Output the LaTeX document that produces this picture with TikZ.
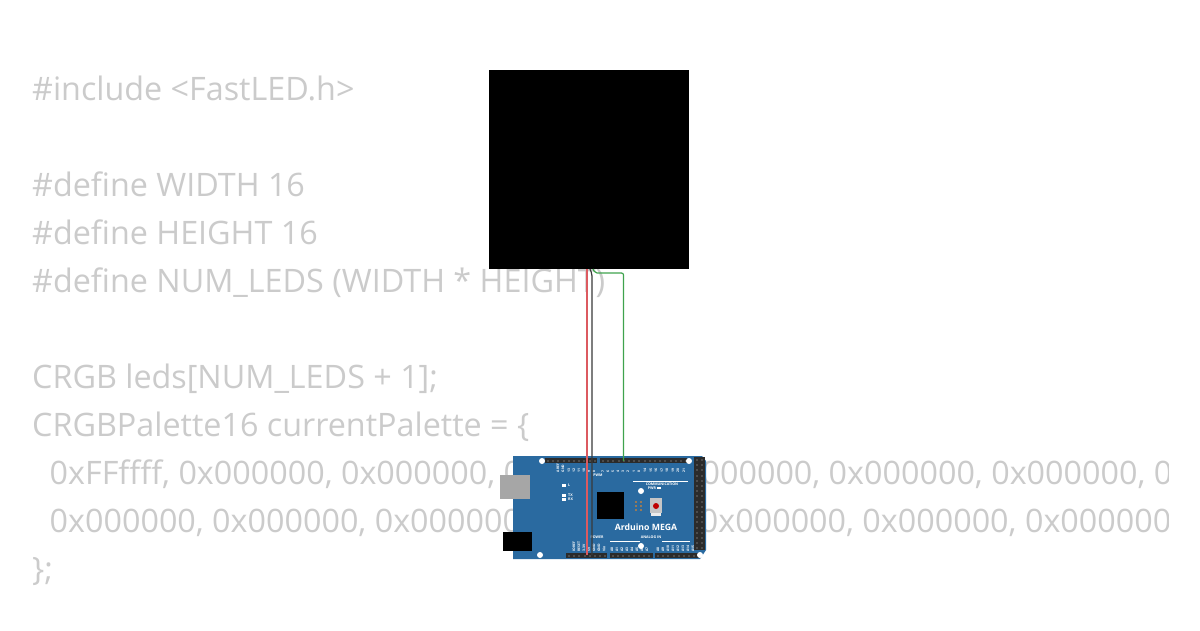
\documentclass[tikz,border=0pt]{standalone}
\usepackage{fontspec}
\setmainfont{Open Sans}
\definecolor{codegray}{HTML}{CBCBCB}
\definecolor{boardblue}{HTML}{2A6AA0}
\definecolor{headerdark}{HTML}{2B2B2B}
\definecolor{wirered}{HTML}{DC5A60}
\definecolor{wireblack}{HTML}{3A3A3A}
\definecolor{wiregreen}{HTML}{3FA34D}
\tikzset{
  codeline/.style={anchor=base west, inner sep=0pt, text=codegray, font=\fontsize{32.3}{36}\selectfont},
  silk/.style={inner sep=0pt, text=white, font=\fontsize{3.6}{4}\selectfont\bfseries},
  pinlabel/.style={inner sep=0pt, text=white, rotate=90, anchor=west, font=\fontsize{3.4}{3.4}\selectfont\bfseries},
  header/.style={fill=headerdark},
  hole/.style={fill=white, draw=none},
  wire/.style={line width=1.2pt, rounded corners=2pt}
}
\begin{document}
\begin{tikzpicture}[x=1pt,y=-1pt]
  \useasboundingbox[fill=white] (0,0) rectangle (1200,630);

  % sketch source behind the parts
  \begin{scope}
    \clip (0,0) rectangle (1168,630);
    \node[codeline] (line1) at (32,100) {\#include <FastLED.h>};
    \node[codeline] (line2) at (32,196) {\#define WIDTH 16};
    \node[codeline] (line3) at (32,244) {\#define HEIGHT 16};
    \node[codeline] (line4) at (32,292) {\#define NUM\_LEDS (WIDTH * HEIGHT)};
    \node[codeline] (line5) at (32,388) {CRGB leds[NUM\_LEDS + 1];};
    \node[codeline] (line6) at (32,436) {CRGBPalette16 currentPalette = \{};
    \node[codeline] (line7) at (49.5,484) {0xFFffff, 0x000000, 0x000000, 0x000000, 0x000000, 0x000000, 0x000000, 0x000000,};
    \node[codeline] (line8) at (49.5,532) {0x000000, 0x000000, 0x000000, 0x000000, 0x000000, 0x000000, 0x000000, 0x000000,};
    \node[codeline] (line9) at (32,580) {\};};
  \end{scope}

  % led matrix
  \node[fill=black, minimum width=200pt, minimum height=199pt, inner sep=0pt] (matrix) at (589,169.5) {};

  % board
  \fill[boardblue] (513,456) -- (702,456) -- (706,461) -- (706,550) -- (700,559) -- (513,559) -- cycle;

  % usb and power jack
  \node[fill=gray!70, minimum width=30pt, minimum height=24pt, inner sep=0pt] (usb) at (515,487) {};
  \node[fill=black, minimum width=29pt, minimum height=19pt, inner sep=0pt] (jack) at (517.5,541.5) {};

  % pin headers
  \fill[header] (545,458) rectangle (597,463);
  \fill[header] (600,458) rectangle (687,463);
  \fill[header] (566,553) rectangle (607,558);
  \fill[header] (610,553) rectangle (653,558);
  \fill[header] (655,553) rectangle (699,558);
  \fill[header] (694,457) rectangle (705,550);
  \foreach \px in {547,552.2,...,596} \fill[gray!60!black] (\px,459.5) rectangle +(2,2);
  \foreach \px in {602,607.2,...,686} \fill[gray!60!black] (\px,459.5) rectangle +(2,2);
  \foreach \px in {568,573.2,...,606} \fill[gray!60!black] (\px,554.5) rectangle +(2,2);
  \foreach \px in {612,617.2,...,652} \fill[gray!60!black] (\px,554.5) rectangle +(2,2);
  \foreach \px in {657,662.2,...,698} \fill[gray!60!black] (\px,554.5) rectangle +(2,2);
  \foreach \py in {459,464.2,...,549} {
    \fill[gray!60!black] (696,\py) rectangle +(2,2);
    \fill[gray!60!black] (701,\py) rectangle +(2,2);
  }

  % mounting holes
  \foreach \hx/\hy in {542/461, 689/461, 540/555, 700/555, 641/491, 641/546}
    \fill[hole] (\hx,\hy) circle (3pt);

  % chip, button, icsp
  \node[fill=black, minimum size=27pt, inner sep=0pt] (chip) at (610.5,505.5) {};
  \fill[white!55!gray] (650,498) rectangle (662,513);
  \fill[white!85!gray] (651,513) rectangle (661,516);
  \fill[red!75!black] (656,506) circle (3pt);
  \foreach \ix in {636,641} \foreach \iy in {502,506,510}
    \fill[orange!50!gray] (\ix,\iy) circle (1.2pt);

  % leds and silk
  \foreach \ly/\ltext in {485/L, 495/TX, 499/RX} {
    \fill[white] (562,\ly-1.5) rectangle (566,\ly+1.5);
    \node[silk, anchor=west] (led\ltext) at (568,\ly) {\ltext};
  }
  \fill[white] (657,487) rectangle (661,489);
  \node[silk] (pwr) at (652,488) {PWR};
  \node[silk] (pwm) at (598,475.5) {PWM};
  \node[silk] (comm) at (662,483.8) {COMMUNICATION};
  \node[silk] (power) at (597,537) {POWER};
  \node[silk] (analog) at (651,537.5) {ANALOG IN};
  \draw[white, line width=0.3pt] (633,481) -- (688,481);
  \draw[white, line width=0.3pt] (610,541) -- (640,541) (662,541) -- (690,541);
  \node[text=white, inner sep=0pt, font=\fontsize{8.7}{10}\selectfont\bfseries] (mega) at (646,527) {Arduino MEGA};

  % pin labels
  \foreach \tx/\ttext in {558/AREF, 563/GND, 569/13, 574/12, 579/11, 584/10, 589/9, 594/8,
      603/7, 608/6, 613/5, 618/4, 623/3, 628/2, 634/1, 639/0,
      645/14, 651/15, 656/16, 662/17, 667/18, 673/19, 678/20, 684/21}
    \node[pinlabel] (top\ttext) at (\tx,472.5) {\ttext};
  \foreach \tx/\ttext in {574/IOREF, 579/RESET, 584/3.3V, 589/5V, 594/GND, 599/GND, 604/Vin,
      612/A0, 617/A1, 622/A2, 627/A3, 632/A4, 637/A5, 642/A6, 647/A7,
      658/A8, 663/A9, 668/A10, 673/A11, 678/A12, 683/A13, 688/A14, 693/A15}
    \node[pinlabel] (bot\ttext) at (\tx,552) {\ttext};

  % wires
  \coordinate (ledvcc) at (587,269);
  \coordinate (ledgnd) at (590,269);
  \coordinate (leddin) at (593,269);
  \coordinate (pinvcc) at (587,555);
  \coordinate (pingnd) at (592,555);
  \coordinate (pindin) at (623.5,461);
  \draw[wire, wirered] (ledvcc) -- (pinvcc);
  \draw[wire, wireblack] (ledgnd) -- (592,274) -- (pingnd);
  \draw[wire, wiregreen] (leddin) -- (595,273) -- (623.5,273) -- (pindin);
\end{tikzpicture}
\end{document}
